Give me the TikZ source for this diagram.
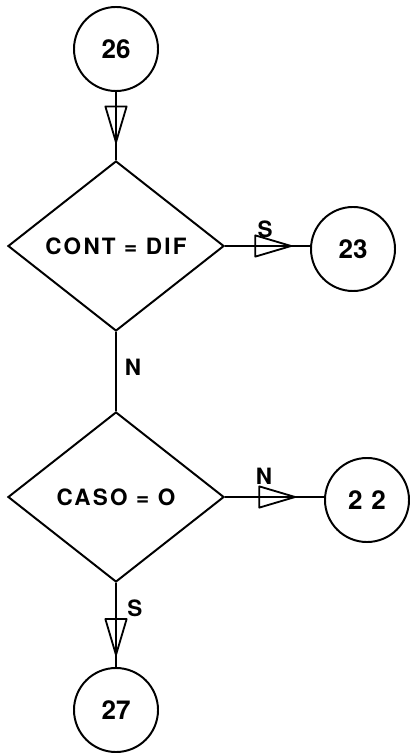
\documentclass[tikz,border=0pt]{standalone}
\usepackage{fontspec}
\setmainfont{TeX Gyre Heros}
\newfontfamily\spaced[LetterSpace=10]{TeX Gyre Heros}
\usetikzlibrary{shapes.geometric,arrows.meta,decorations.markings}

\begin{document}
\begin{tikzpicture}[x=0.025cm, y=-0.025cm, line width=1.4pt,
  conn/.style={circle, draw, minimum size=2.1cm, inner sep=0pt, font=\fontsize{18.5}{20}\selectfont\bfseries},
  test/.style={diamond, draw, minimum width=5.4cm, minimum height=4.25cm, inner sep=0pt, font=\fontsize{16}{18}\spaced\bfseries},
  lbl/.style={font=\fontsize{16}{18}\selectfont\bfseries, inner sep=0pt},
  flow/.style={decoration={markings, mark=at position #1 with {\arrow[line width=1.3pt, line join=round]{Triangle[open, length=1.0cm, width=0.58cm, round]}}}, postaction={decorate}},
]
  \useasboundingbox (0,0) rectangle (409,753);
  \node[conn] (c26) at (116,49) {26};
  \node[test] (cont) at (116,246) {CONT = DIF};
  \node[conn] (c23) at (353,249) {23};
  \node[test] (caso) at (116,497) {CASO = O};
  \node[conn] (c22) at (367,500) {2\,\,2};
  \node[conn] (c27) at (116,710) {27};
  \draw[flow=-0.42cm] (c26) -- (cont);
  \draw[flow=-0.45cm] (cont) -- (cont.east -| c23.west);
  \draw (cont) -- (caso);
  \draw[flow=-0.7cm] (caso) -- (caso.east -| c22.west);
  \draw[flow=-0.28cm] (caso) -- (c27);
  \node[lbl] (s1) at (265,229) {S};
  \node[lbl] (n1) at (133,367) {N};
  \node[lbl] (n2) at (264,476) {N};
  \node[lbl] (s2) at (135,608) {S};
\end{tikzpicture}
\end{document}
